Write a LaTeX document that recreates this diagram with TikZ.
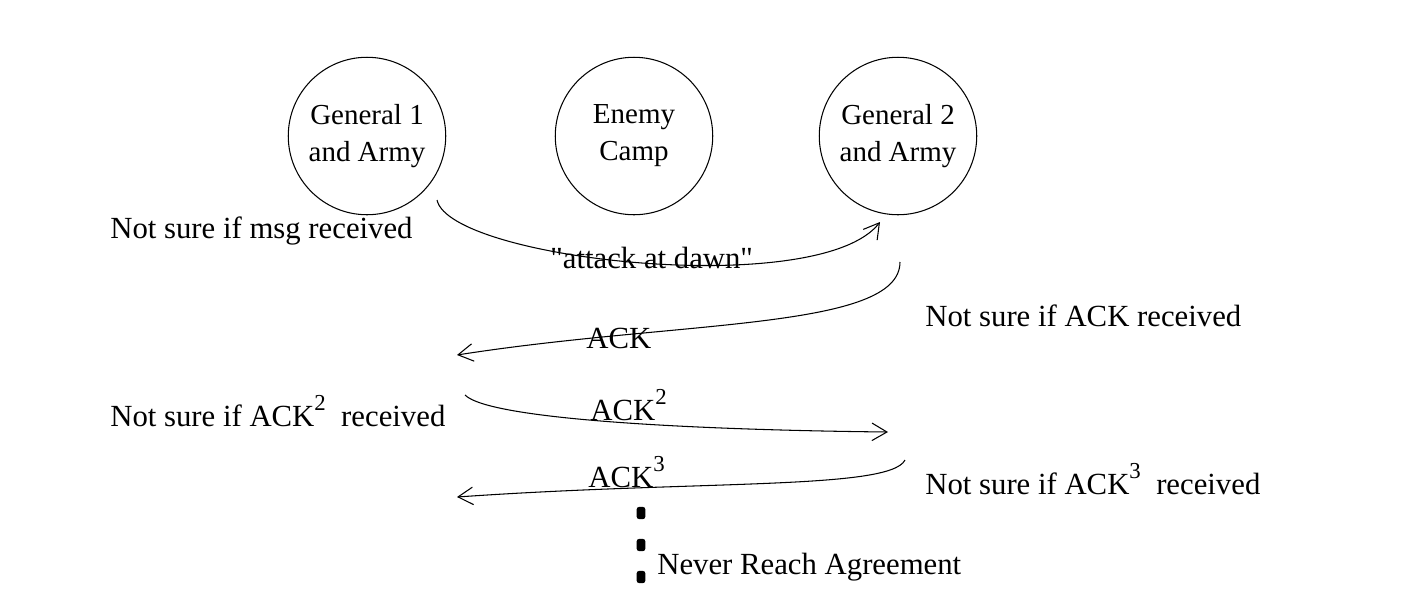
\documentclass[tikz,border=0pt]{standalone}
\usepackage{fontspec}
\setmainfont{Liberation Serif}
\usetikzlibrary{positioning, arrows.meta}

\newcommand{\hisup}[1]{\raisebox{1.1ex}{\fontsize{13}{15}\selectfont#1}}

\begin{document}
\begin{tikzpicture}[
    x=0.02cm, y=-0.02cm,
    camp/.style={
        circle, draw=black, semithick,
        minimum size=3.15cm,
        align=center,
        font=\fontsize{16.5}{21}\selectfont
    },
    note/.style={
        anchor=west, inner sep=0pt,
        font=\fontsize{17.5}{21}\selectfont
    },
    msg/.style={
        draw=black, semithick,
        -{Straight Barb[length=3mm,width=3.5mm]}
    },
    dot/.style={
        fill=black, minimum width=5pt, minimum height=7pt,
        inner sep=0pt, rounded corners=1.5pt
    }
]
\useasboundingbox (0,0) rectangle (1414,600);

% Camps
\node[camp] (gen1) at (367,136) {General 1\\and Army};
\node[camp] (enemy) at (634,136) {Enemy\\Camp};
\node[camp] (gen2) at (898,136) {General 2\\and Army};

% Message end points
\coordinate (m1s) at (437,200);
\coordinate (m1e) at (880,222);
\coordinate (m2s) at (900,262);
\coordinate (m2e) at (457,355);
\coordinate (m3s) at (465,395);
\coordinate (m3e) at (888,432);
\coordinate (m4s) at (905,460);
\coordinate (m4e) at (457,497);

% Messages
\draw[msg] (m1s) .. controls (450,260) and (820,300) .. (m1e);
\draw[msg] (m2s) .. controls (900,330) and (680,320) .. (m2e);
\draw[msg] (m3s) .. controls (490,420) and (700,430) .. (m3e);
\draw[msg] (m4s) .. controls (890,490) and (700,480) .. (m4e);

\node[note] (l1) at (550,258) {\textquotedbl attack at dawn\textquotedbl};
\node[note] (l2) at (586,338) {ACK};
\node[note] (l3) at (590,405) {ACK\hisup{2}};
\node[note] (l4) at (588,472) {ACK\hisup{3}};

% Side notes
\node[note] (n1) at (110,231) {Not sure if msg received};
\node[note] (n2) at (925,316) {Not sure if ACK received};
\node[note] (n3) at (110,411) {Not sure if ACK\hisup{2}\ \ received};
\node[note] (n4) at (925,479) {Not sure if ACK\hisup{3}\ \ received};

% Never ending
\node[dot] (d1) at (641,513) {};
\node[dot] (d2) at (641,545) {};
\node[dot] (d3) at (641,577) {};
\node[note] (never) at (657,567) {Never Reach Agreement};
\end{tikzpicture}
\end{document}
